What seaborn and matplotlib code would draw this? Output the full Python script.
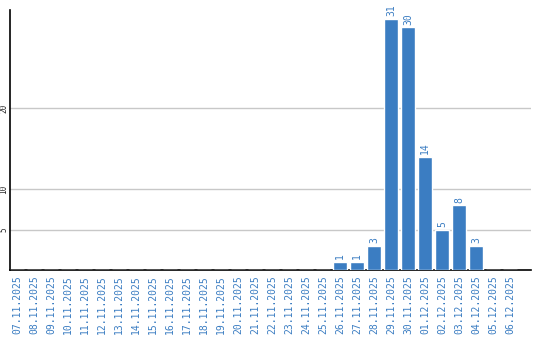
import matplotlib
matplotlib.use("Agg")
import matplotlib.pyplot as plt
import seaborn as sns
import pandas as pd

dates = ["07.11.2025", "08.11.2025", "09.11.2025", "10.11.2025", "11.11.2025",
         "12.11.2025", "13.11.2025", "14.11.2025", "15.11.2025", "16.11.2025",
         "17.11.2025", "18.11.2025", "19.11.2025", "20.11.2025", "21.11.2025",
         "22.11.2025", "23.11.2025", "24.11.2025", "25.11.2025", "26.11.2025",
         "27.11.2025", "28.11.2025", "29.11.2025", "30.11.2025", "01.12.2025",
         "02.12.2025", "03.12.2025", "04.12.2025", "05.12.2025", "06.12.2025"]
values = [0, 0, 0, 0, 0, 0, 0, 0, 0, 0, 0, 0, 0, 0, 0,
          0, 0, 0, 0, 1, 1, 3, 31, 30, 14, 5, 8, 3, 0, 0]
yticks = [5, 10, 20]

sns.set_style("white")
plt.rcParams['font.family'] = ['DejaVu Sans Mono', 'DejaVu Sans']

blue = "#3b7dc2"
df = pd.DataFrame({"date": dates, "value": values})

fig = plt.figure(figsize=(5.4, 3.4), dpi=100)
ax = fig.add_axes([10/540, 1 - 270/340, 521/540, 260/340])
sns.barplot(data=df, x="date", y="value", color=blue, saturation=1, width=0.82, ax=ax, zorder=3)

for i, v in enumerate(values):
    if v > 0:
        ax.text(i, v + 0.3, str(v), rotation=90, ha="center", va="bottom",
                fontsize=7, color=blue)

ax.set_ylim(0, 32.1)
ax.set_xlim(-0.41, 30.24)
ax.set_yticks(yticks)
ax.set_yticklabels([str(t) for t in yticks], rotation=90, va="center", fontsize=5.5)
ax.yaxis.grid(True, color="#c8c8c8", linewidth=1, zorder=0)
ax.tick_params(axis="x", labelrotation=90, labelsize=7, labelcolor=blue, length=0, pad=4)
ax.tick_params(axis="y", length=0, pad=1)
ax.set_xlabel("")
ax.set_ylabel("")
for s in ["top", "right"]:
    ax.spines[s].set_visible(False)
for s in ["left", "bottom"]:
    ax.spines[s].set_color("black")
    ax.spines[s].set_linewidth(1.2)

fig.savefig("out.png", dpi=100)
